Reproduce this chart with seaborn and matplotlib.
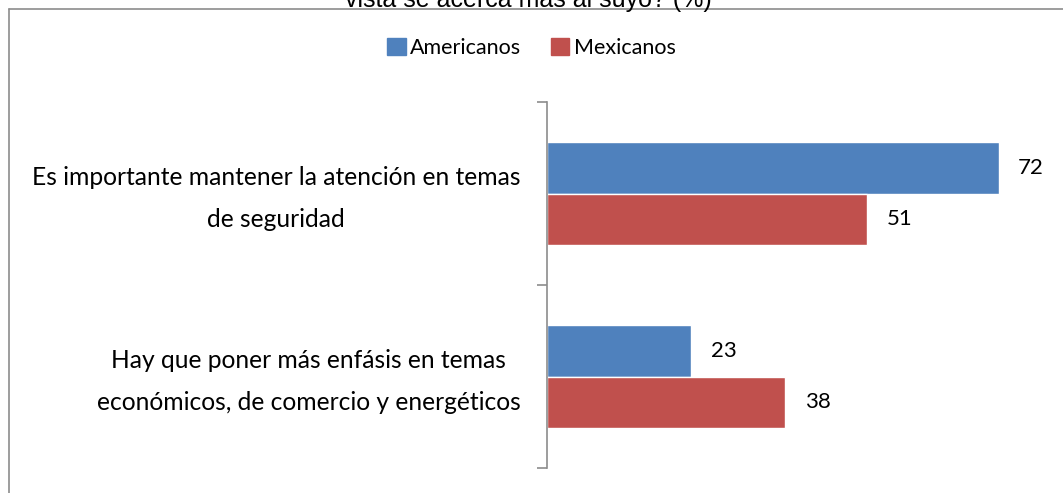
import pandas as pd
import matplotlib.pyplot as plt
import matplotlib.transforms as mtransforms
import seaborn as sns
from matplotlib.lines import Line2D
from matplotlib.patches import Patch

categories = [
    "Es importante mantener la atención en temas\nde seguridad",
    "Hay que poner más enfásis en temas\neconómicos, de comercio y energéticos",
]
groups = ["Americanos", "Mexicanos"]
americanos = [72, 23]
mexicanos = [51, 38]
colors = ["#4F81BD", "#C0504D"]

df = pd.DataFrame({
    "categoria": categories * 2,
    "grupo": [groups[0]] * 2 + [groups[1]] * 2,
    "valor": americanos + mexicanos,
})

sns.set_style("white")
plt.rcParams["font.family"] = ["Lato", "DejaVu Sans"]
plt.rcParams["text.color"] = "black"
plt.rcParams["ytick.color"] = "black"

fig = plt.figure(figsize=(10.63, 4.93), dpi=100)
ax = fig.add_axes([547 / 1063, 1 - 468 / 493, 502 / 1063, 366 / 493])

sns.barplot(data=df, y="categoria", x="valor", hue="grupo", palette=colors,
            orient="h", width=0.56, saturation=1, ax=ax, legend=False)

for cont in ax.containers:
    ax.bar_label(cont, fmt="%d", padding=14, fontsize=16, color="black")

ax.set_xlim(0, 80)
ax.set_ylim(1.5, -0.5)
ax.set_xlabel("")
ax.set_ylabel("")
ax.set_xticks([])
for s in ["top", "right", "bottom"]:
    ax.spines[s].set_visible(False)
ax.spines["left"].set_color("#8c8c8c")
ax.spines["left"].set_linewidth(1.2)
ax.set_yticks([-0.5, 0.5, 1.5], minor=True)
ax.tick_params(axis="y", which="minor", length=7, color="#8c8c8c", width=1.2, left=True)
ax.tick_params(axis="y", which="major", length=0, pad=19, labelsize=17.7, labelcolor="black")
shift_up = mtransforms.ScaledTranslation(0, 0.07, fig.dpi_scale_trans)
for lab in ax.get_yticklabels():
    lab.set_multialignment("center")
    lab.set_linespacing(2.0)
    lab.set_transform(lab.get_transform() + shift_up)

handles = [Patch(color=c, label=g) for c, g in zip(colors, groups)]
fig.legend(handles=handles, loc="center", bbox_to_anchor=(0.5, 1 - 48 / 493), ncol=2,
           frameon=False, fontsize=15.5, handlelength=0.85, handleheight=0.85,
           handletextpad=0.2, columnspacing=1.4, labelcolor="black")

# chart frame, partly outside the image
fig.add_artist(Line2D([9 / 1063, 1.05], [1 - 9 / 493] * 2, color="#8c8c8c", lw=1.2))
fig.add_artist(Line2D([9 / 1063] * 2, [1 - 9 / 493, -0.05], color="#8c8c8c", lw=1.2))

fig.text(528 / 1063, 1 - 7 / 493, "vista se acerca más al suyo? (%)", ha="center",
         va="baseline", fontsize=18, color="black", family=["Liberation Sans", "DejaVu Sans"])

fig.savefig("out.png", dpi=100)
